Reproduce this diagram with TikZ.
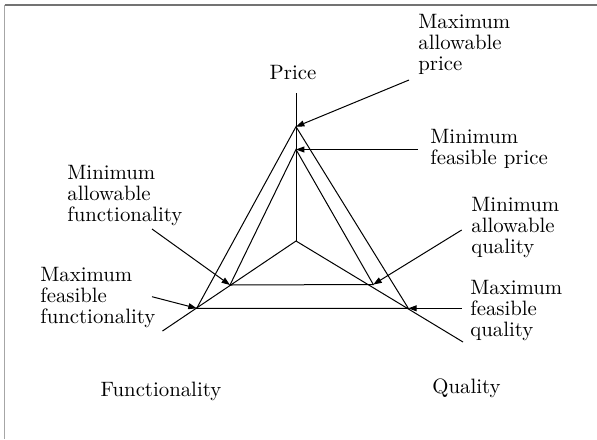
\documentclass[tikz,border=0pt]{standalone}
\usetikzlibrary{arrows.meta}
\begin{document}
\begin{tikzpicture}[x=0.5pt,y=-0.5pt,
  ln/.style={line width=0.5pt},
  arr/.style={ln,-{Triangle[length=4.2pt,width=3pt]}},
  lbl/.style={font=\fontsize{10.4}{10.5}\selectfont,align=left,inner sep=0pt,anchor=north west},
  axlbl/.style={font=\fontsize{10.4}{12}\selectfont,inner sep=0pt,anchor=base}]
\useasboundingbox (0,0) rectangle (597,439);
% frame
\draw[black!55,line width=0.6pt] (4.5,5) -- (597,5);
\draw[black!35,line width=0.8pt] (4.5,5) -- (4.5,439);
% coordinates
\coordinate (C) at (296,241);
\coordinate (Ptop) at (296,93);
\coordinate (Fend) at (162.5,331);
\coordinate (Qend) at (463,342);
\coordinate (O1) at (296,126.7);
\coordinate (O2) at (196.7,308.3);
\coordinate (O3) at (408.3,308.3);
\coordinate (I1) at (296,149.5);
\coordinate (I2) at (230,285);
\coordinate (I3) at (373.3,284.5);
\coordinate (a1) at (409,80);
\coordinate (a2) at (418,149.5);
\coordinate (a3) at (152,229);
\coordinate (a4) at (152,296.7);
\coordinate (a5) at (461.7,230);
\coordinate (a6) at (461.7,308.3);
% axes
\draw[ln] (C) -- (Ptop);
\draw[ln] (C) -- (Fend);
\draw[ln] (C) -- (Qend);
% triangles
\draw[ln] (O1) -- (O2) -- (O3) -- cycle;
\draw[ln] (I1) -- (I2) -- (I3) -- cycle;
% arrows
\draw[arr] (a1) -- (O1);
\draw[arr] (a2) -- (I1);
\draw[arr] (a3) -- (I2);
\draw[arr] (a4) -- (O2);
\draw[arr] (a5) -- (I3);
\draw[arr] (a6) -- (O3);
% labels
\node[axlbl] (lp) at (293,79.5) {Price};
\node[axlbl] (lf) at (161,396) {Functionality};
\node[axlbl] (lq) at (466.5,393) {Quality};
\node[lbl] (t1) at (418,14) {Maximum\\allowable\\price};
\node[lbl] (t2) at (430,129) {Minimum\\feasible price};
\node[lbl] (t3) at (471,197) {Minimum\\allowable\\quality};
\node[lbl] (t4) at (470,280) {Maximum\\feasible\\quality};
\node[lbl] (t5) at (67,165) {Minimum\\allowable\\functionality};
\node[lbl] (t6) at (40,266.7) {Maximum\\feasible\\functionality};
\end{tikzpicture}
\end{document}
